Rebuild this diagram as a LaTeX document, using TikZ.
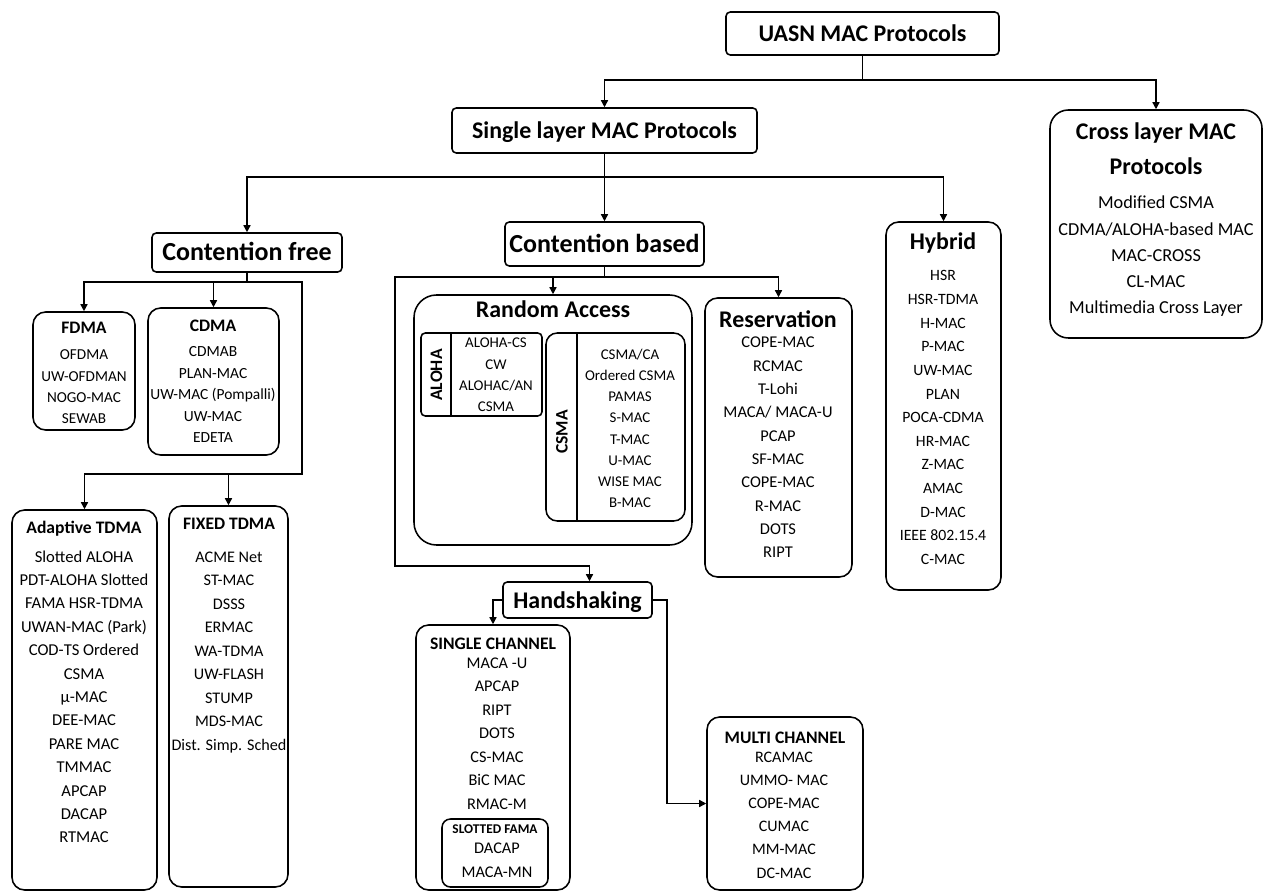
\documentclass[tikz,border=0pt]{standalone}
\usepackage{fontspec}
\setmainfont{Carlito}
\usetikzlibrary{arrows.meta,positioning,calc,fit}
\newcommand\titlefont{\fontsize{17}{20}\selectfont\bfseries}
\newcommand\bigtitlefont{\fontsize{18.5}{22}\selectfont\bfseries}
\newcommand\subfont{\fontsize{12.5}{15}\selectfont\bfseries}
\newcommand\crossfont{\fontsize{13}{15}\selectfont}
\newcommand\famafont{\fontsize{9.5}{11}\selectfont\bfseries}

\begin{document}
\begin{tikzpicture}[x=0.025cm,y=-0.025cm,
  box/.style={draw,line width=1.1pt,rounded corners=3pt,inner sep=0pt},
  listbox/.style={box,rounded corners=9pt},
  head/.style={anchor=base,inner sep=0pt,font=\titlefont},
  sub/.style={anchor=base,inner sep=0pt,font=\subfont},
  item/.style={anchor=base,inner sep=0pt,font=\fontsize{#1}{14}\selectfont},
  item/.default=11.5,
  arrow/.style={-{Triangle[length=5pt,width=5pt]},line width=1pt},
  link/.style={line width=1pt}
]
\useasboundingbox (0,0) rectangle (1264,892);

% top levels
\node[box,fit={(726,12) (999,55)}] (uasn) {};
\node[head] (uasn-t) at ($(uasn.center)+(0,8)$) {UASN MAC Protocols};
\node[box,fit={(452,108) (757,153)}] (single) {};
\node[head] (single-t) at ($(single.center)+(0,8)$) {Single layer MAC Protocols};
\node[listbox,rounded corners=13pt,fit={(1050,110) (1262,338)}] (cross) {};
\node[head] (cross-h1) at (1156,140) {Cross layer MAC};
\node[head] (cross-h2) at (1156,175) {Protocols};
\foreach \lbl [count=\i from 0] in {Modified CSMA,CDMA/ALOHA-based MAC,MAC-CROSS,CL-MAC,Multimedia Cross Layer}
  \node[item,font=\crossfont] (cross-\i) at (1156,{209+26.25*\i}) {\lbl};

\node[box,fit={(152,233) (342,272)}] (cfree) {};
\node[head,font=\bigtitlefont] (cfree-t) at ($(cfree.center)+(0,8.5)$) {Contention free};
\node[box,fit={(505,222) (704,266)}] (cbased) {};
\node[head,font=\bigtitlefont] (cbased-t) at ($(cbased.center)+(0,8.5)$) {Contention based};

% hybrid
\node[listbox,fit={(886,222) (1001,590)}] (hybrid) {};
\node[head] (hybrid-h) at (943,250) {Hybrid};
\foreach \lbl [count=\i from 0] in {HSR,HSR-TDMA,H-MAC,P-MAC,UW-MAC,PLAN,POCA-CDMA,HR-MAC,Z-MAC,AMAC,D-MAC,IEEE 802.15.4,C-MAC}
  \node[item=11.2] (hybrid-\i) at (943,{281+23.6*\i}) {\lbl};

% contention free branch
\node[listbox,fit={(33,312) (135,430)}] (fdma) {};
\node[sub] (fdma-h) at (84,334) {FDMA};
\foreach \lbl [count=\i from 0] in {OFDMA,UW-OFDMAN,NOGO-MAC,SEWAB}
  \node[item=10.8] (fdma-\i) at (84,{360+21.3*\i}) {\lbl};

\node[listbox,fit={(148,308) (279,455)}] (cdma) {};
\node[sub] (cdma-h) at (213,332) {CDMA};
\foreach \lbl [count=\i from 0] in {CDMAB,PLAN-MAC,UW-MAC (Pompalli),UW-MAC,EDETA}
  \node[item=11] (cdma-\i) at (213,{357+21.5*\i}) {\lbl};

\node[listbox,fit={(12,510) (157,890)}] (adtdma) {};
\node[sub] (adtdma-h) at (84,533) {Adaptive TDMA};
\foreach \lbl [count=\i from 0] in {Slotted ALOHA,PDT-ALOHA Slotted,FAMA HSR-TDMA,UWAN-MAC (Park),COD-TS Ordered,CSMA,μ-MAC,DEE-MAC,PARE MAC,TMMAC,APCAP,DACAP,RTMAC}
  \node[item=11.8] (adtdma-\i) at (84,{562+23.4*\i}) {\lbl};

\node[listbox,fit={(169,506) (288,887)}] (fxtdma) {};
\node[sub] (fxtdma-h) at (229,529) {FIXED TDMA};
\foreach \lbl [count=\i from 0] in {ACME Net,ST-MAC,DSSS,ERMAC,WA-TDMA,UW-FLASH,STUMP,MDS-MAC,Dist. Simp. Sched}
  \node[item=11.5] (fxtdma-\i) at (229,{562+23.5*\i}) {\lbl};

% contention based branch
\node[listbox,rounded corners=16pt,fit={(414,295) (692,545)}] (randacc) {};
\node[head] (randacc-h) at (553,318) {Random Access};
\node[box,fit={(421,333) (542,416)}] (aloha) {};
\draw[line width=1.1pt] ($(aloha.north west)+(31,0)$) -- ($(aloha.south west)+(31,0)$);
\node[sub,anchor=center,rotate=90] (aloha-l) at (436.5,375) {ALOHA};
\foreach \lbl [count=\i from 0] in {ALOHA-CS,CW,ALOHAC/AN,CSMA}
  \node[item=10.6] (aloha-\i) at (496,{348+21.3*\i}) {\lbl};

\node[box,rounded corners=8pt,fit={(546,333) (685,521)}] (csma) {};
\draw[line width=1.1pt] ($(csma.north west)+(32,0)$) -- ($(csma.south west)+(32,0)$);
\node[sub,anchor=center,rotate=90] (csma-l) at (562,432) {CSMA};
\foreach \lbl [count=\i from 0] in {CSMA/CA,Ordered CSMA,PAMAS,S-MAC,T-MAC,U-MAC,WISE MAC,B-MAC}
  \node[item=10.6] (csma-\i) at (630,{360+21*\i}) {\lbl};

\node[listbox,fit={(705,298) (852,577)}] (reserv) {};
\node[head] (reserv-h) at (778,328) {Reservation};
\foreach \lbl [count=\i from 0] in {COPE-MAC,RCMAC,T-Lohi,MACA/ MACA-U,PCAP,SF-MAC,COPE-MAC,R-MAC,DOTS,RIPT}
  \node[item=11.7] (reserv-\i) at (778,{348+23.3*\i}) {\lbl};

\node[box,fit={(503,582) (652,618)}] (handsh) {};
\node[head] (handsh-t) at ($(handsh.center)+(0,8)$) {Handshaking};

\node[listbox,fit={(416,625) (570,890)}] (sgch) {};
\node[sub] (sgch-h) at (493,649) {SINGLE CHANNEL};
\foreach \lbl [count=\i from 0] in {MACA -U,APCAP,RIPT,DOTS,CS-MAC,BiC MAC,RMAC-M}
  \node[item=11.6] (sgch-\i) at (497,{668+23.5*\i}) {\lbl};
\node[box,rounded corners=6pt,fit={(442,819) (548,887)}] (fama) {};
\node[sub,font=\famafont] (fama-h) at (495,833) {SLOTTED FAMA};
\node[item=11.6] (fama-0) at (497,853) {DACAP};
\node[item=11.6] (fama-1) at (497,877) {MACA-MN};

\node[listbox,fit={(707,717) (863,890)}] (mlch) {};
\node[sub] (mlch-h) at (785,743) {MULTI CHANNEL};
\foreach \lbl [count=\i from 0] in {RCAMAC,UMMO- MAC,COPE-MAC,CUMAC,MM-MAC,DC-MAC}
  \node[item=11.4] (mlch-\i) at (784,{762+23.2*\i}) {\lbl};

% connectors
\coordinate (top-bus) at (862.5,80);
\draw[link] (uasn.south) -- (top-bus);
\draw[arrow] (top-bus) -| (single.north);
\draw[arrow] (top-bus) -| (cross.north);

\coordinate (sl-bus) at (604.5,177);
\draw[arrow] (single.south) -- (cbased.north);
\draw[arrow] (sl-bus) -| (cfree.north);
\draw[arrow] (sl-bus) -| (hybrid.north);

\coordinate (cf-bus) at (247,282);
\coordinate (cf-turn) at (302,474);
\draw[link] (cfree.south) -- (cf-bus);
\draw[arrow] (cf-bus) -| (fdma.north);
\draw[arrow] (cf-bus) -| (cdma.north);
\draw[arrow] (cf-bus) -| (cf-turn) -| (adtdma.north);
\draw[arrow] (cf-turn) -| (fxtdma.north);

\coordinate (cb-bus) at (604.5,277);
\coordinate (cb-left) at (395,566);
\draw[link] (cbased.south) -- (cb-bus);
\draw[arrow] (cb-bus) -| (randacc.north);
\draw[arrow] (cb-bus) -| (reserv.north);
\draw[arrow] (cb-bus) -| (cb-left) -| ($(handsh.north)+(12,0)$);

\coordinate (hs-right) at (667,600);
\draw[arrow] (handsh.west) -| (sgch.north);
\draw[arrow] (handsh.east) -- (hs-right) |- (mlch.west);
\end{tikzpicture}
\end{document}
